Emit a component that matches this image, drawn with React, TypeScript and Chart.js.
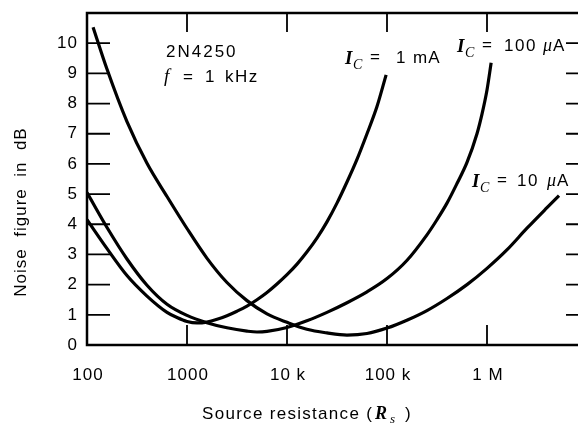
import { useEffect, useRef } from 'react';
import { Chart, registerables } from 'chart.js';

Chart.register(...registerables);

// Source resistance (ohms) and noise figure (dB)
const rs10uA = [115, 158, 251, 398, 631, 1000, 1580, 2510, 3980, 6310, 10000, 15800, 25100, 39800, 63100, 100000, 158000, 251000, 398000, 631000, 1000000, 1580000, 2510000, 3980000, 5250000];
const nf10uA = [10.53, 9.15, 7.4, 6.02, 4.92, 3.86, 2.88, 2.07, 1.47, 1.03, 0.75, 0.52, 0.4, 0.33, 0.38, 0.56, 0.82, 1.14, 1.54, 2.0, 2.54, 3.15, 3.87, 4.55, 4.95];

const rs100uA = [100, 158, 251, 398, 631, 1000, 1580, 2510, 3980, 5010, 6310, 10000, 15800, 25100, 39800, 63100, 100000, 158000, 251000, 316000, 398000, 501000, 631000, 794000, 891000, 1000000, 1100000];
const nf100uA = [5.05, 3.9, 2.85, 1.98, 1.35, 0.98, 0.74, 0.57, 0.46, 0.43, 0.45, 0.58, 0.8, 1.08, 1.4, 1.76, 2.2, 2.8, 3.65, 4.15, 4.7, 5.35, 6.05, 7.0, 7.65, 8.45, 9.35];

const rs1mA = [100, 158, 251, 398, 631, 794, 1000, 1260, 1580, 2000, 2510, 3160, 3980, 5010, 6310, 7940, 10000, 12600, 15800, 20000, 25100, 31600, 39800, 50100, 63100, 79400, 98000];
const nf1mA = [4.15, 3.2, 2.3, 1.62, 1.08, 0.91, 0.78, 0.73, 0.76, 0.85, 0.97, 1.12, 1.29, 1.5, 1.74, 2.02, 2.33, 2.68, 3.08, 3.55, 4.08, 4.7, 5.4, 6.15, 7.0, 7.9, 8.95];

const xTickValues = [100, 1000, 10000, 100000, 1000000];
const xTickLabels = ['100', '1000', '10 k', '100 k', '1 M'];
const yTickValues = [0, 1, 2, 3, 4, 5, 6, 7, 8, 9, 10];
const yTickLabels = ['0', '1', '2', '3', '4', '5', '6', '7', '8', '9', '10'];

const SANS = '"Liberation Sans", Arial, Helvetica, sans-serif';
const SERIF = '"Liberation Serif", "Times New Roman", serif';

function put(ctx: any, s: string, x: number, y: number, font: string, ls = 0, align = 'left', base = 'alphabetic') {
  ctx.font = font;
  ctx.letterSpacing = ls + 'px';
  ctx.textAlign = align;
  ctx.textBaseline = base;
  ctx.fillText(s, x, y);
}

const framePlugin = {
  id: 'frame',
  beforeDatasetsDraw(chart: any) {
    const { ctx, chartArea: a, scales } = chart;
    const xs = scales.x;
    const ys = scales.y;
    ctx.save();
    ctx.strokeStyle = '#000';
    ctx.lineWidth = 2.5;
    ctx.beginPath();
    ctx.moveTo(a.left, a.top);
    ctx.lineTo(a.left, a.bottom);
    ctx.lineTo(a.right, a.bottom);
    ctx.lineTo(a.right, a.top);
    ctx.closePath();
    ctx.stroke();
    ctx.lineWidth = 1.8;
    ctx.beginPath();
    for (const v of yTickValues) {
      if (v === 0) continue;
      const py = ys.getPixelForValue(v);
      ctx.moveTo(a.left, py);
      ctx.lineTo(a.left + 23, py);
      ctx.moveTo(a.right, py);
      ctx.lineTo(a.right - 21, py);
    }
    for (const v of xTickValues) {
      if (v === xTickValues[0]) continue;
      const px = xs.getPixelForValue(v);
      ctx.moveTo(px, a.bottom);
      ctx.lineTo(px, a.bottom - 20);
      ctx.moveTo(px, a.top);
      ctx.lineTo(px, a.top + 19);
    }
    ctx.stroke();
    ctx.restore();
  },
  afterDraw(chart: any) {
    const { ctx, scales } = chart;
    const xs = scales.x;
    const ys = scales.y;
    ctx.save();
    ctx.fillStyle = '#000';
    const tickFont = `17px ${SANS}`;
    yTickValues.forEach((v, i) => {
      put(ctx, yTickLabels[i], 78, ys.getPixelForValue(v), tickFont, 1, 'right', 'middle');
    });
    xTickValues.forEach((v, i) => {
      put(ctx, xTickLabels[i], xs.getPixelForValue(v) + 1, 375, tickFont, 1, 'center', 'middle');
    });

    // axis titles
    put(ctx, 'Source resistance (', 202, 419, `17px ${SANS}`, 1.3);
    put(ctx, 'R', 375, 419, `bold italic 18px ${SERIF}`, 0);
    put(ctx, 's', 390, 423, `italic 13px ${SERIF}`, 0);
    put(ctx, ')', 405, 419, `17px ${SANS}`, 0);

    ctx.save();
    ctx.translate(26, 212);
    ctx.rotate(-Math.PI / 2);
    put(ctx, 'Noise  figure  in  dB', 0, 0, `17px ${SANS}`, 1, 'center', 'alphabetic');
    ctx.restore();

    // annotations
    put(ctx, '2N4250', 166, 57, `17px ${SANS}`, 2);
    put(ctx, 'f', 164, 82, `italic 19px ${SERIF}`, 0);
    put(ctx, '=', 183, 82, `17px ${SANS}`, 0);
    put(ctx, '1', 205, 82, `17px ${SANS}`, 0);
    put(ctx, 'kHz', 225, 82, `17px ${SANS}`, 1.5);

    const icLabel = (x: number, base: number, val: string, valX: number, unitX: number, micro: boolean, unit: string) => {
      put(ctx, 'I', x, base + 1, `bold italic 19px ${SERIF}`, 0);
      put(ctx, 'C', x + 8, base + 6, `italic 14px ${SERIF}`, 0);
      put(ctx, '=', x + 25, base - 1, `17px ${SANS}`, 0);
      put(ctx, val, valX, base, `17px ${SANS}`, 1.5);
      if (micro) {
        put(ctx, '\u03bc', unitX, base, `italic 18px ${SERIF}`, 0);
        put(ctx, unit, unitX + 10, base, `17px ${SANS}`, 0);
      } else {
        put(ctx, unit, unitX, base, `17px ${SANS}`, 1);
      }
    };
    icLabel(345, 63, '1', 396, 413, false, 'mA');
    icLabel(457, 51, '100', 504, 543, true, 'A');
    icLabel(472, 186, '10', 517, 547, true, 'A');

    ctx.restore();
  },
};

export default function App() {
  const ref = useRef<HTMLCanvasElement | null>(null);
  useEffect(() => {
    if (!ref.current) return;
    const mk = (xs: number[], ys: number[]) => xs.map((x, i) => ({ x, y: ys[i] }));
    const common = {
      borderColor: '#000',
      backgroundColor: '#000',
      borderWidth: 3.2,
      pointRadius: 0,
      fill: false,
      cubicInterpolationMode: 'monotone' as const,
    };
    const chart = new Chart(ref.current, {
      type: 'line',
      data: {
        datasets: [
          { label: 'IC = 10 µA', data: mk(rs10uA, nf10uA), ...common },
          { label: 'IC = 100 µA', data: mk(rs100uA, nf100uA), ...common },
          { label: 'IC = 1 mA', data: mk(rs1mA, nf1mA), ...common },
        ],
      },
      options: {
        responsive: false,
        animation: false,
        devicePixelRatio: 1,
        layout: { padding: { left: 87, right: 13, top: 13, bottom: 78 } },
        plugins: { legend: { display: false }, tooltip: { enabled: false }, title: { display: false } },
        scales: {
          x: { type: 'logarithmic', min: 100, max: 10000000, display: false },
          y: { type: 'linear', min: 0, max: 11, display: false },
        },
      },
      plugins: [framePlugin],
    });
    return () => chart.destroy();
  }, []);
  return (
    <div style={{ position: 'fixed', left: 0, top: 0, width: 578, height: 423, overflow: 'hidden', background: '#fff' }}>
      <canvas ref={ref} width={600} height={423} style={{ width: 600, height: 423, display: 'block' }} />
    </div>
  );
}
